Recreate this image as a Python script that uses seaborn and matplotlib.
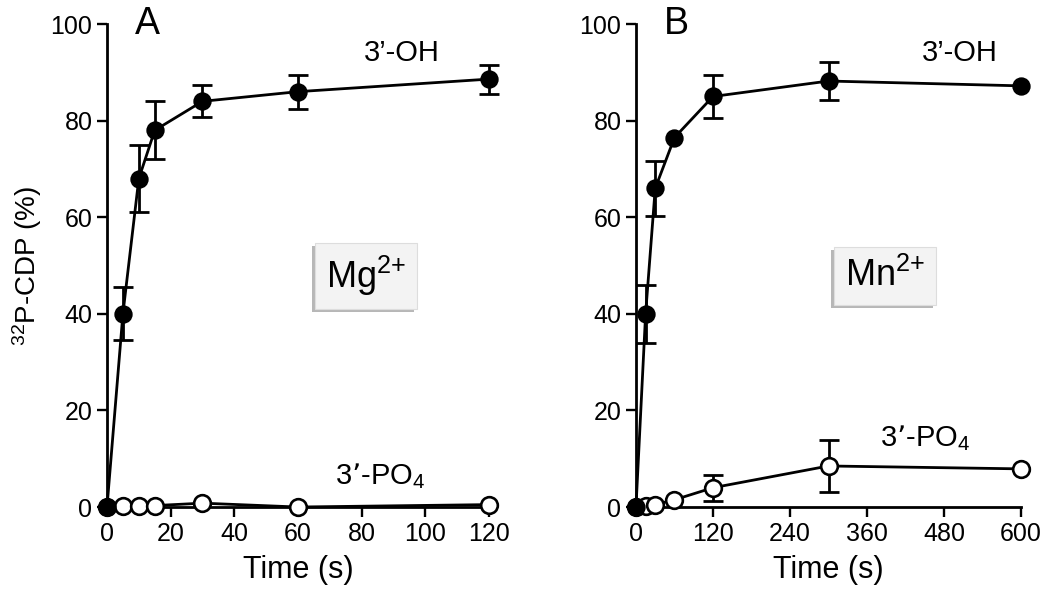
import matplotlib
matplotlib.use("Agg")
import matplotlib.pyplot as plt
import matplotlib.patheffects as pe
import seaborn as sns
import numpy as np
import pandas as pd

# panel A (Mg2+)
time_a = [0, 5, 10, 15, 30, 60, 120]
oh_a = [0, 40, 68, 78, 84, 86, 88.6]
oh_a_err = [0, 5.5, 7, 6, 3.3, 3.5, 3]
po4_a = [0, 0.3, 0.2, 0.3, 0.8, 0, 0.5]

# panel B (Mn2+)
time_b = [0, 15, 30, 60, 120, 300, 600]
oh_b = [0, 40, 66, 76.5, 85, 88.2, 87.2]
oh_b_err = [0, 6, 5.7, 0, 4.5, 4, 0]
po4_b = [0, 0.2, 0.5, 1.5, 4, 8.5, 7.9]
po4_b_err = [0, 0, 0, 0, 2.7, 5.3, 0]

xticks_a = [0, 20, 40, 60, 80, 100, 120]
xticks_b = [0, 120, 240, 360, 480, 600]
yticks = [0, 20, 40, 60, 80, 100]

sns.set_style("ticks")
plt.rcParams["font.family"] = ["Liberation Sans", "DejaVu Sans"]
plt.rcParams["mathtext.default"] = "regular"
plt.rcParams["text.color"] = "black"
plt.rcParams["axes.labelcolor"] = "black"

fig = plt.figure(figsize=(10.5, 6.07), dpi=100)
ax_a = fig.add_axes([0.1019, 0.1647, 0.3638, 0.7957])
ax_b = fig.add_axes([0.6057, 0.1647, 0.3667, 0.7957])


def draw_panel(ax, t, oh, oh_err, po4, po4_err, xmax, xticks, letter, ion, ion_x,
               oh_lab_x, po4_lab_x, po4_lab_y):
    df = pd.DataFrame({"t": t, "oh": oh, "po4": po4})
    # open circles first so filled ones sit on top at t=0
    sns.lineplot(data=df, x="t", y="po4", ax=ax, color="black", lw=2.0,
                 marker="o", markersize=12, markerfacecolor="white",
                 markeredgecolor="black", markeredgewidth=1.9, clip_on=False, zorder=3)
    if po4_err is not None:
        e = np.array(po4_err, dtype=float)
        ax.errorbar(t, po4, yerr=np.where(e > 0, e, np.nan), fmt="none", ecolor="black",
                    elinewidth=2.0, capsize=7, capthick=2.0, clip_on=False, zorder=2)
    e = np.array(oh_err, dtype=float)
    ax.errorbar(t, oh, yerr=np.where(e > 0, e, np.nan), fmt="none", ecolor="black",
                elinewidth=2.0, capsize=7, capthick=2.0, clip_on=False, zorder=4)
    sns.lineplot(data=df, x="t", y="oh", ax=ax, color="black", lw=2.0,
                 marker="o", markersize=12, markerfacecolor="black",
                 markeredgecolor="black", markeredgewidth=1.2, clip_on=False, zorder=5)

    ax.set_xlim(0, xmax)
    ax.set_ylim(0, 100)
    ax.set_xticks(xticks)
    ax.set_yticks(yticks)
    ax.tick_params(direction="out", length=7, width=1.7, labelsize=18, color="black",
                   labelcolor="black")
    for s in ["left", "bottom"]:
        ax.spines[s].set_linewidth(2.0)
        ax.spines[s].set_color("black")
    sns.despine(ax=ax)
    ax.set_xlabel("Time (s)", fontsize=22, labelpad=7, color="black")
    ax.set_ylabel("")

    ax.text(0.105, 1.0, letter, transform=ax.transAxes, fontsize=27, ha="center", va="center")
    ax.text(oh_lab_x, 94, "3’-OH", fontsize=21, ha="center", va="center")
    ax.text(po4_lab_x, po4_lab_y, "3’-PO$_4$", fontsize=21, ha="center", va="center")
    t_ion = ax.text(ion_x, 47.8, ion, fontsize=26, ha="center", va="center",
                    bbox=dict(boxstyle="square,pad=0.3", facecolor="#f3f3f3",
                              edgecolor="#dddddd", linewidth=0.8))
    t_ion.get_bbox_patch().set_path_effects([
        pe.SimplePatchShadow(offset=(-2, -2), shadow_rgbFace="#888888", alpha=0.6),
        pe.Normal()])


draw_panel(ax_a, time_a, oh_a, oh_a_err, po4_a, None, 120, xticks_a, "A", "Mg$^{2{+}}$",
           81.4, 92.5, 85.7, 6.3)
draw_panel(ax_b, time_b, oh_b, oh_b_err, po4_b, po4_b_err, 600, xticks_b, "B", "Mn$^{2{+}}$",
           388, 504, 451, 14.2)

ax_a.set_ylabel("$^{32}$P-CDP (%)", fontsize=20, color="black")
ax_a.yaxis.set_label_coords(-0.165, 0.5)

fig.savefig("out.png", dpi=100)
